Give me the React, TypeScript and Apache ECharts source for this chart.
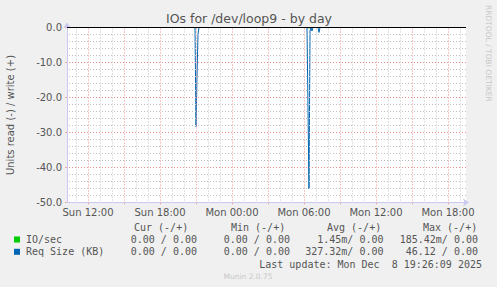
import React, { useEffect, useRef } from "react";
import * as echarts from "echarts";

const TITLE = "IOs for /dev/loop9 - by day";
const Y_LABEL = "Units read (-) / write (+)";
const SIDE_TEXT = "RRDTOOL / TOBI OETIKER";
const FOOTER = "Munin 2.0.75";
const LAST_UPDATE = "Last update: Mon Dec  8 19:26:09 2025";

// x values: hours since Sun 00:00
const X_MIN = 10.25;
const X_MAX = 43.5;
const LABEL_HOURS = [12, 18, 24, 30, 36, 42];
const LABEL_TEXTS = ["Sun 12:00", "Sun 18:00", "Mon 00:00", "Mon 06:00", "Mon 12:00", "Mon 18:00"];
const MAJOR_HOURS = [12, 15, 18, 21, 24, 27, 30, 33, 36, 39, 42];
const MINOR_HOURS = [11, 13, 14, 16, 17, 19, 20, 22, 23, 25, 26, 28, 29, 31, 32, 34, 35, 37, 38, 40, 41, 43];

const Y_MIN = -50;
const Y_MAX = 0;
const Y_STEP = 10;
const Y_MAJOR = [-10, -20, -30, -40];
const Y_MINOR = [-2, -4, -6, -8, -12, -14, -16, -18, -22, -24, -26, -28, -32, -34, -36, -38, -42, -44, -46, -48];

const IO_READ: [number, number][] = [
  [10.25, 0], [20.917, 0], [21.0, -0.08], [21.083, 0],
  [30.333, 0], [30.417, -0.19], [30.5, 0], [43.5, 0],
];
const IO_WRITE: [number, number][] = [[10.25, 0], [43.5, 0]];
const REQ_READ: [number, number][] = [
  [10.25, 0], [20.917, 0], [21.0, -28.3], [21.083, -14], [21.167, -2], [21.25, 0],
  [30.25, 0], [30.333, -23], [30.417, -46.1], [30.5, -1], [30.583, 0],
  [30.667, -1], [30.75, 0], [31.167, 0], [31.25, -1.4], [31.333, 0], [43.5, 0],
];
const REQ_WRITE: [number, number][] = [[10.25, 0], [43.5, 0]];

const HEADERS = ["Cur (-/+)", "Min (-/+)", "Avg (-/+)", "Max (-/+)"];
const ROW_NAMES = ["IO/sec", "Req Size (KB)"];
const ROW_COLORS = ["#00cc00", "#0066b3"];
const ROW_CUR = ["0.00 / 0.00", "0.00 / 0.00"];
const ROW_MIN = ["0.00 / 0.00", "0.00 / 0.00"];
const ROW_AVG = ["1.45m/ 0.00", "327.32m/ 0.00"];
const ROW_MAX = ["185.42m/ 0.00", "46.12 / 0.00"];

const MONO = "'DejaVu Sans Mono', monospace";
const SANS = "'DejaVu Sans', sans-serif";
const TEXT_COLOR = "#555555";

export default function App() {
  const ref = useRef<HTMLDivElement>(null);
  useEffect(() => {
    if (!ref.current) return;
    const chart = echarts.init(ref.current, undefined, { renderer: "svg" });

    const headerX = [134, 231, 327, 423];
    const colRight = [197, 290, 383.5, 478];
    const rowY = [239.5, 251.8];
    const graphics: any[] = [
      { type: "text", x: 249, y: 18, style: { text: TITLE, font: `12.5px ${SANS}`, fill: TEXT_COLOR, align: "center", verticalAlign: "middle" } },
      { type: "text", x: 10, y: 115, rotation: Math.PI / 2, style: { text: Y_LABEL, font: `10px ${SANS}`, fill: TEXT_COLOR, align: "center", verticalAlign: "middle" } },
      { type: "text", x: 488, y: 5, rotation: -Math.PI / 2, style: { text: SIDE_TEXT, font: `7.5px ${SANS}`, fill: "#c8c8c8", align: "left", verticalAlign: "middle" } },
      { type: "text", x: 248, y: 276, style: { text: FOOTER, font: `7.5px ${SANS}`, fill: "#c8c8c8", align: "center", verticalAlign: "middle" } },
      { type: "text", x: 482, y: 264, style: { text: LAST_UPDATE, font: `10px ${MONO}`, fill: TEXT_COLOR, align: "right", verticalAlign: "middle", whiteSpace: "pre" } },
    ];
    HEADERS.forEach((h, i) => {
      graphics.push({ type: "text", x: headerX[i], y: 227.7, style: { text: h, font: `10px ${MONO}`, fill: TEXT_COLOR, align: "left", verticalAlign: "middle" } });
    });
    ROW_NAMES.forEach((n, r) => {
      graphics.push({ type: "rect", shape: { x: 14, y: rowY[r] - 3, width: 6, height: 6 }, style: { fill: ROW_COLORS[r] } });
      graphics.push({ type: "text", x: 26, y: rowY[r], style: { text: n, font: `10px ${MONO}`, fill: TEXT_COLOR, align: "left", verticalAlign: "middle" } });
      [ROW_CUR[r], ROW_MIN[r], ROW_AVG[r], ROW_MAX[r]].forEach((v, c) => {
        graphics.push({ type: "text", x: colRight[c], y: rowY[r], style: { text: v, font: `10px ${MONO}`, fill: TEXT_COLOR, align: "right", verticalAlign: "middle" } });
      });
    });

    const lineCommon = { type: "line", showSymbol: false, symbol: "none", silent: true };
    const gridMinorStyle = { color: "#c0c0c0", width: 1, type: [1, 2], dashOffset: 0.5 };
    const gridMajorStyle = { color: "#ec8c8c", width: 1, type: [1, 2], dashOffset: 0.5 };
    const markCommon = { silent: true, symbol: ["none", "none"], label: { show: false } };

    chart.setOption({
      animation: false,
      backgroundColor: "#f0f0f0",
      grid: { left: 67, right: 31, top: 27.5, bottom: 84.5, show: true, backgroundColor: "#ffffff", borderWidth: 0 },
      xAxis: {
        type: "value",
        min: X_MIN,
        max: X_MAX,
        axisLine: { show: true, onZero: false, lineStyle: { color: "#c8c8f0" }, symbol: ["none", "arrow"], symbolSize: [6, 6], symbolOffset: [0, 3] },
        axisTick: { show: true, customValues: MAJOR_HOURS, length: 2, lineStyle: { color: "#f0a8a8" } },
        axisLabel: {
          customValues: LABEL_HOURS,
          formatter: (v: number) => LABEL_TEXTS[LABEL_HOURS.indexOf(Math.round(v))] ?? "",
          color: TEXT_COLOR,
          fontFamily: SANS,
          fontSize: 10,
          margin: 5,
        },
        splitLine: { show: false },
      },
      yAxis: {
        type: "value",
        min: Y_MIN,
        max: Y_MAX,
        interval: Y_STEP,
        axisLine: { show: true, onZero: false, lineStyle: { color: "#c8c8f0" }, symbol: ["none", "arrow"], symbolSize: [6, 6], symbolOffset: [0, 5] },
        axisTick: { show: true, length: 2, lineStyle: { color: "#f0a8a8" } },
        axisLabel: { formatter: (v: number) => v.toFixed(1), color: TEXT_COLOR, fontFamily: SANS, fontSize: 10, margin: 5 },
        splitLine: { show: false },
      },
      graphic: graphics,
      series: [
        {
          ...lineCommon,
          name: "grid-minor",
          data: [],
          z: 1,
          markLine: { ...markCommon, lineStyle: gridMinorStyle, data: [...MINOR_HOURS.map((h) => ({ xAxis: h })), ...Y_MINOR.map((v) => ({ yAxis: v }))] },
        },
        {
          ...lineCommon,
          name: "grid-major",
          data: [],
          z: 2,
          markLine: { ...markCommon, lineStyle: gridMajorStyle, data: [...MAJOR_HOURS.map((h) => ({ xAxis: h })), ...Y_MAJOR.map((v) => ({ yAxis: v }))] },
        },
        { ...lineCommon, name: "IO/sec read", data: IO_READ, z: 3, lineStyle: { color: "#00cc00", width: 1 } },
        { ...lineCommon, name: "IO/sec write", data: IO_WRITE, z: 3, lineStyle: { color: "#00cc00", width: 1 } },
        { ...lineCommon, name: "Req Size read", data: REQ_READ, z: 4, lineStyle: { color: "#0066b3", width: 1 } },
        {
          ...lineCommon,
          name: "Req Size write",
          data: REQ_WRITE,
          z: 4,
          lineStyle: { color: "#0066b3", width: 1 },
          markLine: { ...markCommon, lineStyle: { color: "#000000", width: 1, type: "solid" }, data: [{ yAxis: 0 }] },
        },
      ],
    });
    return () => chart.dispose();
  }, []);
  return <div ref={ref} style={{ position: "fixed", left: 0, top: 0, width: 497, height: 287 }} />;
}
